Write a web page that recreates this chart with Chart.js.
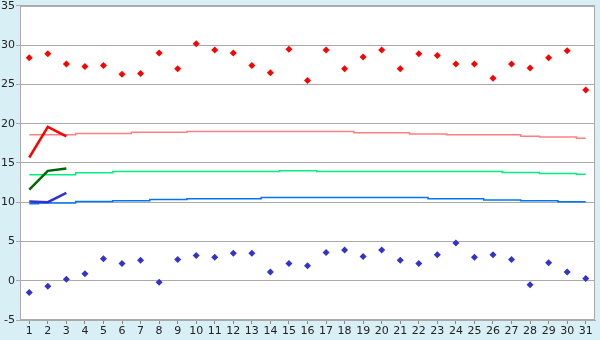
<!DOCTYPE html>
<html>
<head>
<meta charset="utf-8">
<script src="https://cdn.jsdelivr.net/npm/chart.js@4/dist/chart.umd.min.js"></script>
<style>
  html, body { margin: 0; padding: 0; background: #D9EFF6; }
  #wrap { width: 600px; height: 340px; position: relative; }
</style>
</head>
<body>
<div id="wrap"><canvas id="c" width="600" height="340"></canvas></div>
<script>
const days = ["1","2","3","4","5","6","7","8","9","10","11","12","13","14","15","16","17","18","19","20","21","22","23","24","25","26","27","28","29","30","31"];
const maxTemps = [28.4,28.9,27.6,27.3,27.4,26.3,26.4,29.0,27.0,30.2,29.4,29.0,27.4,26.5,29.5,25.5,29.4,27.0,28.5,29.4,27.0,28.9,28.7,27.6,27.6,25.8,27.6,27.1,28.4,29.3,24.3];
const minTemps = [-1.5,-0.7,0.2,0.9,2.8,2.2,2.6,-0.2,2.7,3.2,3.0,3.5,3.5,1.1,2.2,1.9,3.6,3.9,3.1,3.9,2.6,2.2,3.3,4.8,3.0,3.3,2.7,-0.5,2.3,1.1,0.3];
const maxCurrent = [15.7,19.6,18.4];
const meanCurrent = [11.6,14.0,14.3];
const minCurrent = [10.1,10.0,11.2];
const maxNormal = [18.6,18.6,18.6,18.75,18.75,18.75,18.9,18.9,18.9,19.0,19.0,19.0,19.0,19.0,19.0,19.0,19.0,19.0,18.85,18.85,18.85,18.7,18.7,18.6,18.6,18.6,18.6,18.4,18.3,18.3,18.15];
const meanNormal = [13.5,13.5,13.5,13.75,13.75,13.9,13.9,13.9,13.9,13.9,13.9,13.9,13.9,13.9,14.0,14.0,13.9,13.9,13.9,13.9,13.9,13.9,13.9,13.9,13.9,13.9,13.8,13.8,13.65,13.65,13.55];
const minNormal = [9.8,9.9,9.9,10.1,10.1,10.2,10.2,10.35,10.35,10.45,10.45,10.45,10.45,10.6,10.6,10.6,10.6,10.6,10.6,10.6,10.6,10.6,10.45,10.45,10.45,10.3,10.3,10.2,10.2,10.05,10.05];
const yTicks = [-5,0,5,10,15,20,25,30,35];

const bgPlugin = {
  id: 'bg',
  beforeDraw(chart) {
    const {ctx, chartArea: a} = chart;
    ctx.save();
    ctx.fillStyle = '#D9EFF6';
    ctx.fillRect(0, 0, chart.width, chart.height);
    ctx.fillStyle = '#FFFFFF';
    ctx.fillRect(a.left, a.top, a.right - a.left, a.bottom - a.top);
    ctx.restore();
  },
  afterDatasetsDraw(chart) {
    const {ctx, chartArea: a} = chart;
    ctx.save();
    ctx.strokeStyle = '#AAAAAA';
    ctx.lineWidth = 1;
    ctx.strokeRect(a.left + 0.5, a.top + 0.5, a.right - a.left - 1, a.bottom - a.top - 1);
    ctx.restore();
  }
};

function pad(arr) { return days.map((d, i) => i < arr.length ? arr[i] : null); }

new Chart(document.getElementById('c'), {
  type: 'line',
  data: {
    labels: days,
    datasets: [
      { data: maxTemps, showLine: false, pointStyle: 'rectRot', pointRadius: 3.5, backgroundColor: '#FF0000', borderColor: '#FF0000', borderWidth: 0, order: 1 },
      { data: minTemps, showLine: false, pointStyle: 'rectRot', pointRadius: 3.5, backgroundColor: '#3333CC', borderColor: '#3333CC', borderWidth: 0, order: 2 },
      { data: pad(maxCurrent), borderColor: '#FF0000', borderWidth: 2.5, pointRadius: 0, spanGaps: false, order: 3 },
      { data: pad(meanCurrent), borderColor: '#006600', borderWidth: 2.5, pointRadius: 0, spanGaps: false, order: 4 },
      { data: pad(minCurrent), borderColor: '#3333CC', borderWidth: 2.5, pointRadius: 0, spanGaps: false, order: 5 },
      { data: maxNormal, borderColor: '#FF8080', borderWidth: 1.5, pointRadius: 0, stepped: 'middle', order: 6 },
      { data: meanNormal, borderColor: '#00F080', borderWidth: 1.5, pointRadius: 0, stepped: 'middle', order: 7 },
      { data: minNormal, borderColor: '#0077EE', borderWidth: 1.5, pointRadius: 0, stepped: 'middle', order: 8 }
    ]
  },
  options: {
    responsive: false,
    animation: false,
    events: [],
    layout: { padding: { top: 5, right: 5, left: 0, bottom: 0 } },
    plugins: { legend: { display: false }, tooltip: { enabled: false } },
    scales: {
      x: {
        type: 'category',
        offset: true,
        grid: { offset: false, drawOnChartArea: false, drawTicks: true, tickLength: 4, color: '#888888' },
        border: { display: true, color: '#AAAAAA' },
        ticks: { color: '#222222', font: { family: 'DejaVu Sans', size: 11 }, padding: 1, maxRotation: 0, autoSkip: false },
        afterFit(s) { s.height = 20; }
      },
      y: {
        min: -5, max: 35,
        afterBuildTicks(s) { s.ticks = yTicks.map(v => ({ value: v })); },
        grid: { color: '#AAAAAA', drawTicks: true, tickLength: 4, lineWidth: 1 },
        border: { display: true, color: '#AAAAAA' },
        ticks: { color: '#222222', font: { family: 'DejaVu Sans', size: 11, lineHeight: 0.9 }, padding: 1 },
        afterFit(s) { s.width = 20; }
      }
    }
  },
  plugins: [bgPlugin]
});
</script>
</body>
</html>
